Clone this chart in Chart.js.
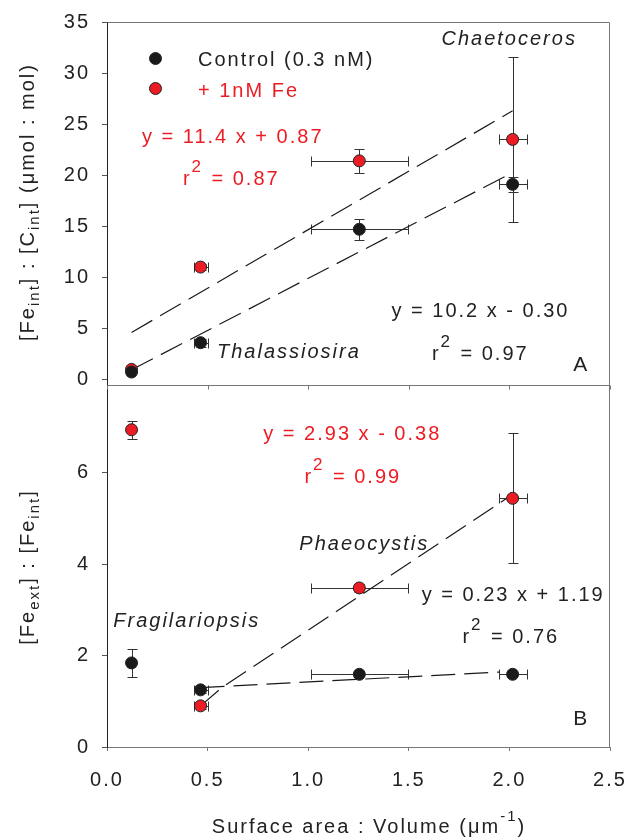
<!DOCTYPE html>
<html>
<head>
<meta charset="utf-8">
<script src="https://cdn.jsdelivr.net/npm/chart.js@4/dist/chart.umd.min.js"></script>
<style>
html,body{margin:0;padding:0;background:#fff;}
canvas{display:block;}
</style>
</head>
<body>
<canvas id="c" width="628" height="837"></canvas>
<script>
// ---- data ----
const species = ['Fragilariopsis', 'Thalassiosira', 'Phaeocystis', 'Chaetoceros'];
const svRatio = [0.122, 0.465, 1.254, 2.016];          // Surface area : Volume (µm-1)
const svErr = [0, 0.035, 0.24, 0.07];

const topControl = [0.72, 3.6, 14.7, 19.1];            // [Fe_int]:[C_int], control
const topControlErr = [0, 0.4, 1.0, 0.75];
const topFe = [0.98, 11.0, 21.4, 23.5];                 // [Fe_int]:[C_int], +1nM Fe
const topFeErr = [0, 0.3, 1.2, 8.1];

const botControl = [1.84, 1.25, 1.59, 1.59];            // [Fe_ext]:[Fe_int], control
const botControlErr = [0.31, 0.07, 0, 0];
const botFe = [6.94, 0.90, 3.48, 5.44];                 // [Fe_ext]:[Fe_int], +1nM Fe
const botFeErr = [0.2, 0.06, 0.08, 1.42];

// fitted lines as drawn in the figure
const topFeFitX = [0.122, 2.016];
const topFeFitY = [4.6, 26.3];
const topCtlFitX = [0.122, 2.016];
const topCtlFitY = [0.94, 20.26];
const botFeFitX = [0.465, 0.571, 2.0];
const botFeFitY = [0.90, 1.30, 5.48];
const botCtlFitX = [0.465, 1.95];
const botCtlFitY = [1.30, 1.64];

const xTicks = [0, 0.5, 1.0, 1.5, 2.0, 2.5];
const topTicks = [0, 5, 10, 15, 20, 25, 30, 35];
const botTicks = [0, 2, 4, 6];

// ---- styles ----
const RED = '#ec1c24';
const BLACK = '#1a1a1a';
const TXT = '#222';
const FONT = '"Liberation Sans", Arial, sans-serif';
const LS = '2px';

const pts = (xs, ys) => xs.map((x, i) => ({x: x, y: ys[i]}));

function pointDs(label, ys, color, axis) {
  return {type: 'scatter', label, data: pts(svRatio, ys), yAxisID: axis,
    backgroundColor: color, borderColor: '#222', pointRadius: 6, pointHoverRadius: 6,
    pointBorderWidth: 1, order: 0};
}
function lineDs(xs, ys, axis) {
  return {type: 'line', data: pts(xs, ys), yAxisID: axis, borderColor: '#1a1a1a',
    borderWidth: 1.2, borderDash: [24, 9], pointRadius: 0, fill: false, tension: 0, order: 5};
}

function setFont(ctx, size, italic) {
  ctx.font = (italic ? 'italic ' : '') + size + 'px ' + FONT;
}
function text(ctx, s, x, y, color, size, italic) {
  setFont(ctx, size || 20, italic);
  ctx.fillStyle = color;
  ctx.textAlign = 'left';
  ctx.textBaseline = 'alphabetic';
  ctx.fillText(s, x, y);
}
function rsq(ctx, x, y, val, color) {
  text(ctx, 'r', x, y, color, 20);
  text(ctx, '2', x + 8.5, y - 13, color, 17);
  text(ctx, '= ' + val, x + 28.5, y, color, 20);
}
// draw text with sub/superscript parts, centered along its own axis
function richText(ctx, parts, cx, baseY, rotate) {
  ctx.save();
  ctx.translate(cx, baseY);
  if (rotate) ctx.rotate(-Math.PI / 2);
  let total = 0;
  const widths = parts.map(p => { setFont(ctx, p.size || 20, false); const w = ctx.measureText(p.t).width; total += w; return w; });
  let x = -total / 2;
  ctx.fillStyle = TXT;
  ctx.textAlign = 'left';
  ctx.textBaseline = 'alphabetic';
  parts.forEach((p, i) => {
    setFont(ctx, p.size || 20, false);
    ctx.fillText(p.t, x, p.dy || 0);
    x += widths[i];
  });
  ctx.restore();
}

const errPlugin = {
  id: 'errbars',
  beforeLayout(chart) { chart.ctx.letterSpacing = LS; },
  beforeDraw(chart) {
    const ctx = chart.ctx;
    ctx.letterSpacing = LS;
    ctx.save();
    ctx.fillStyle = '#fff';
    ctx.fillRect(0, 0, chart.width, chart.height);
    ctx.restore();
  },
  beforeDatasetsDraw(chart) {
    const ctx = chart.ctx;
    const xs = chart.scales.x;
    const sets = [
      [chart.scales.yTop, topControl, topControlErr],
      [chart.scales.yTop, topFe, topFeErr],
      [chart.scales.yBot, botControl, botControlErr],
      [chart.scales.yBot, botFe, botFeErr]
    ];
    ctx.save();
    ctx.strokeStyle = '#333';
    ctx.lineWidth = 1;
    const cap = 5;
    sets.forEach(([ys, vals, errs]) => {
      vals.forEach((v, i) => {
        const px = Math.round(xs.getPixelForValue(svRatio[i])) + 0.5;
        const py = Math.round(ys.getPixelForValue(v)) + 0.5;
        ctx.beginPath();
        if (errs[i] > 0) {
          const y1 = Math.round(ys.getPixelForValue(v + errs[i])) + 0.5;
          const y2 = Math.round(ys.getPixelForValue(v - errs[i])) + 0.5;
          ctx.moveTo(px, y1); ctx.lineTo(px, y2);
          ctx.moveTo(px - cap, y1); ctx.lineTo(px + cap, y1);
          ctx.moveTo(px - cap, y2); ctx.lineTo(px + cap, y2);
        }
        if (svErr[i] > 0) {
          const x1 = Math.round(xs.getPixelForValue(svRatio[i] - svErr[i])) + 0.5;
          const x2 = Math.round(xs.getPixelForValue(svRatio[i] + svErr[i])) + 0.5;
          ctx.moveTo(x1, py); ctx.lineTo(x2, py);
          ctx.moveTo(x1, py - cap); ctx.lineTo(x1, py + cap);
          ctx.moveTo(x2, py - cap); ctx.lineTo(x2, py + cap);
        }
        ctx.stroke();
      });
    });
    ctx.restore();
  },
  afterDraw(chart) {
    const ctx = chart.ctx;
    const a = chart.chartArea;
    const xs = chart.scales.x;
    const yt = chart.scales.yTop;
    ctx.save();
    // frame: top, right, middle boundary
    ctx.strokeStyle = '#777';
    ctx.lineWidth = 1;
    const L = Math.round(a.left) + 0.5, R = Math.round(a.right) - 0.5;
    const T = Math.round(a.top) + 0.5, B = Math.round(a.bottom) + 0.5;
    const M = Math.round(yt.bottom) + 0.5;
    ctx.beginPath();
    ctx.moveTo(L, T); ctx.lineTo(R, T); ctx.lineTo(R, B);
    ctx.moveTo(L, M); ctx.lineTo(R + 0.5, M);
    xTicks.forEach(v => {
      const px = Math.round(xs.getPixelForValue(v)) + 0.5;
      ctx.moveTo(px, M); ctx.lineTo(px, M + 4);
    });
    ctx.stroke();

    // legend
    [[BLACK, 58.5, 'Control (0.3 nM)', TXT, 66], [RED, 88.5, '+ 1nM Fe', RED, 96.5]].forEach(([c, cy, s, tc, by]) => {
      ctx.beginPath();
      ctx.arc(155.5, cy, 6, 0, Math.PI * 2);
      ctx.fillStyle = c; ctx.fill();
      ctx.strokeStyle = '#222'; ctx.lineWidth = 1; ctx.stroke();
      text(ctx, s, 198, by, tc, 20);
    });

    // annotations, panel A
    text(ctx, 'y = 11.4 x + 0.87', 142, 143, RED);
    rsq(ctx, 183, 185, '0.87', RED);
    text(ctx, 'Chaetoceros', 441.5, 45, TXT, 20, true);
    text(ctx, 'y = 10.2 x - 0.30', 391.5, 316.5, TXT);
    rsq(ctx, 432, 360, '0.97', TXT);
    text(ctx, 'Thalassiosira', 217, 358.3, TXT, 20, true);
    text(ctx, 'A', 573.3, 370.7, TXT, 21);
    // annotations, panel B
    text(ctx, 'y = 2.93 x - 0.38', 263.3, 440, RED);
    rsq(ctx, 304.5, 483.3, '0.99', RED);
    text(ctx, 'Phaeocystis', 299.3, 550, TXT, 20, true);
    text(ctx, 'y = 0.23 x + 1.19', 421.7, 600.7, TXT);
    rsq(ctx, 462.5, 643.3, '0.76', TXT);
    text(ctx, 'Fragilariopsis', 113.3, 626.7, TXT, 20, true);
    text(ctx, 'B', 573.3, 725, TXT, 21);

    // axis titles
    richText(ctx, [
      {t: '[Fe'}, {t: 'int', size: 15, dy: 5}, {t: '] : [C'}, {t: 'int', size: 15, dy: 5},
      {t: '] (\u03bcmol : mol)'}
    ], 33.5, 202, true);
    richText(ctx, [
      {t: '[Fe'}, {t: 'ext', size: 15, dy: 5}, {t: '] : [Fe'}, {t: 'int', size: 15, dy: 5}, {t: ']'}
    ], 33.5, 567, true);
    richText(ctx, [
      {t: 'Surface area : Volume (\u03bcm'}, {t: '-1', size: 15, dy: -12}, {t: ')'}
    ], 369, 833, false);
    ctx.restore();
  }
};

const tickFont = {family: FONT, size: 20};

new Chart(document.getElementById('c'), {
  data: {
    datasets: [
      lineDs(topFeFitX, topFeFitY, 'yTop'),
      lineDs(topCtlFitX, topCtlFitY, 'yTop'),
      lineDs(botFeFitX, botFeFitY, 'yBot'),
      lineDs(botCtlFitX, botCtlFitY, 'yBot'),
      pointDs('Control (0.3 nM)', topControl, BLACK, 'yTop'),
      pointDs('+ 1nM Fe', topFe, RED, 'yTop'),
      pointDs('Control (0.3 nM)', botControl, BLACK, 'yBot'),
      pointDs('+ 1nM Fe', botFe, RED, 'yBot')
    ]
  },
  options: {
    responsive: false,
    animation: false,
    events: [],
    layout: {padding: {top: 22, right: 18, left: 0, bottom: 0}},
    plugins: {legend: {display: false}, tooltip: {enabled: false}},
    scales: {
      x: {
        type: 'linear', position: 'bottom', min: 0, max: 2.5,
        afterBuildTicks(s) { s.ticks = xTicks.map(v => ({value: v})); },
        ticks: {font: tickFont, color: TXT, padding: 17, maxRotation: 0, callback: v => v.toFixed(1)},
        grid: {drawOnChartArea: false, drawTicks: true, tickLength: 4, color: '#777'},
        border: {display: true, color: '#777'},
        afterFit(s) { s.height = 90; s.paddingLeft = 0; s.paddingRight = 0; }
      },
      yTop: {
        type: 'linear', position: 'left', stack: 'panels', stackWeight: 1, weight: 2,
        min: -0.5, max: 35,
        afterBuildTicks(s) { s.ticks = topTicks.map(v => ({value: v})); },
        ticks: {font: tickFont, color: TXT, padding: 12},
        grid: {drawOnChartArea: false, drawTicks: true, tickLength: 5, color: '#555'},
        border: {display: true, color: '#222'},
        afterFit(s) { s.width = 107; s.paddingTop = 0; s.paddingBottom = 0; }
      },
      yBot: {
        type: 'linear', position: 'left', stack: 'panels', stackWeight: 1, weight: 1,
        min: 0, max: 7.93,
        afterBuildTicks(s) { s.ticks = botTicks.map(v => ({value: v})); },
        ticks: {font: tickFont, color: TXT, padding: 12},
        grid: {drawOnChartArea: false, drawTicks: true, tickLength: 5, color: '#555'},
        border: {display: true, color: '#222'},
        afterFit(s) { s.width = 107; s.paddingTop = 0; s.paddingBottom = 0; }
      }
    }
  },
  plugins: [errPlugin]
});
</script>
</body>
</html>
